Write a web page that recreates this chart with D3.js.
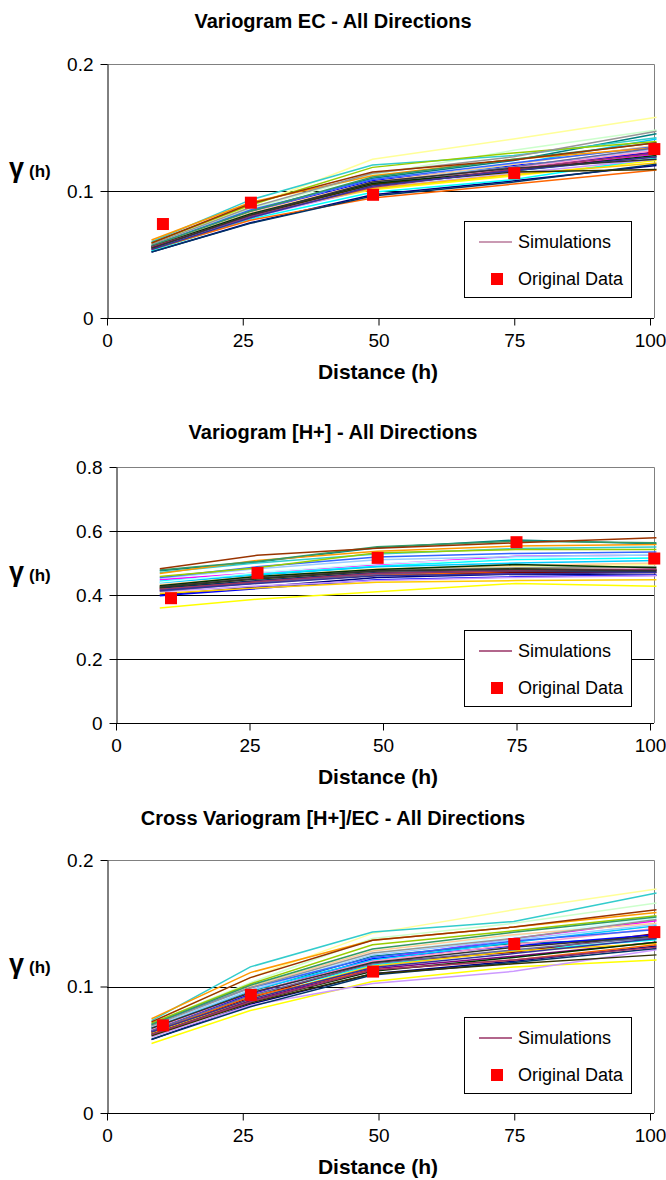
<!DOCTYPE html>
<html>
<head>
<meta charset="utf-8">
<script src="https://cdn.jsdelivr.net/npm/d3@7"></script>
<style>
body { margin: 0; background: #fff; }
svg { display: block; font-family: "Liberation Sans", Arial, sans-serif; }
</style>
</head>
<body>
<div id="chart"></div>
<script>
// lag distances of the simulated and original variogram points
var simLags = [8.2, 26.4, 48.9, 74.9, 101.2];
var dataLags = [10.3, 26.5, 49, 75, 100.8];
var xTicks = [0, 25, 50, 75, 100];

// excel default line colours, one per simulation
var simColors = ["#000080", "#FF00FF", "#FFFF00", "#00FFFF", "#800080", "#800000", "#008080", "#0000FF",
    "#00CCFF", "#CCFFFF", "#CCFFCC", "#FFFF99", "#99CCFF", "#FF99CC", "#CC99FF", "#FFCC99",
    "#3366FF", "#33CCCC", "#99CC00", "#FFCC00", "#FF9900", "#FF6600", "#666699", "#969696",
    "#003366", "#339966", "#003300", "#333300", "#993300", "#993366", "#333399", "#333333"];

// Variogram EC
var ecTicks = [0, 0.1, 0.2];
var ecData = [0.074, 0.0908, 0.097, 0.114, 0.133];
var ecSims = [
    [0.052, 0.075, 0.097, 0.108, 0.120],
    [0.055, 0.080, 0.102, 0.116, 0.129],
    [0.057, 0.082, 0.101, 0.112, 0.124],
    [0.053, 0.078, 0.099, 0.109, 0.126],
    [0.056, 0.081, 0.104, 0.118, 0.131],
    [0.055, 0.079, 0.105, 0.117, 0.127],
    [0.057, 0.084, 0.110, 0.124, 0.145],
    [0.056, 0.083, 0.108, 0.120, 0.130],
    [0.054, 0.080, 0.106, 0.121, 0.141],
    [0.055, 0.081, 0.103, 0.115, 0.128],
    [0.058, 0.086, 0.113, 0.132, 0.148],
    [0.059, 0.088, 0.125, 0.141, 0.158],
    [0.056, 0.082, 0.107, 0.119, 0.133],
    [0.055, 0.080, 0.104, 0.118, 0.132],
    [0.054, 0.079, 0.102, 0.114, 0.125],
    [0.057, 0.083, 0.107, 0.121, 0.136],
    [0.057, 0.085, 0.109, 0.122, 0.135],
    [0.060, 0.093, 0.1205, 0.128, 0.142],
    [0.059, 0.089, 0.1186, 0.130, 0.139],
    [0.056, 0.081, 0.102, 0.113, 0.122],
    [0.0614, 0.091, 0.112, 0.125, 0.134],
    [0.054, 0.077, 0.0945, 0.1055, 0.1165],
    [0.055, 0.080, 0.106, 0.119, 0.134],
    [0.058, 0.087, 0.114, 0.127, 0.147],
    [0.052, 0.0745, 0.096, 0.107, 0.121],
    [0.057, 0.084, 0.111, 0.125, 0.138],
    [0.056, 0.082, 0.106, 0.116, 0.128],
    [0.055, 0.081, 0.105, 0.115, 0.117],
    [0.059, 0.090, 0.115, 0.1244, 0.138],
    [0.056, 0.080, 0.103, 0.117, 0.130],
    [0.054, 0.079, 0.104, 0.116, 0.127],
    [0.055, 0.081, 0.107, 0.118, 0.125]
];

// Variogram [H+]
var hTicks = [0, 0.2, 0.4, 0.6, 0.8];
var hData = [0.39, 0.469, 0.516, 0.565, 0.514];
var hSims = [
    [0.400, 0.425, 0.455, 0.465, 0.462],
    [0.448, 0.469, 0.495, 0.521, 0.525],
    [0.359, 0.387, 0.410, 0.436, 0.427],
    [0.443, 0.466, 0.490, 0.511, 0.516],
    [0.415, 0.440, 0.465, 0.470, 0.472],
    [0.420, 0.438, 0.462, 0.472, 0.470],
    [0.476, 0.503, 0.548, 0.572, 0.560],
    [0.398, 0.420, 0.448, 0.457, 0.462],
    [0.438, 0.462, 0.488, 0.500, 0.508],
    [0.440, 0.470, 0.498, 0.515, 0.528],
    [0.425, 0.452, 0.478, 0.488, 0.490],
    [0.430, 0.458, 0.482, 0.490, 0.495],
    [0.452, 0.482, 0.510, 0.520, 0.525],
    [0.418, 0.445, 0.470, 0.478, 0.482],
    [0.410, 0.428, 0.445, 0.455, 0.460],
    [0.432, 0.458, 0.480, 0.492, 0.500],
    [0.455, 0.488, 0.519, 0.530, 0.534],
    [0.470, 0.500, 0.528, 0.545, 0.550],
    [0.458, 0.485, 0.532, 0.542, 0.542],
    [0.405, 0.422, 0.440, 0.445, 0.448],
    [0.467, 0.508, 0.537, 0.553, 0.558],
    [0.420, 0.440, 0.462, 0.475, 0.478],
    [0.412, 0.438, 0.466, 0.478, 0.480],
    [0.428, 0.455, 0.478, 0.485, 0.488],
    [0.422, 0.445, 0.470, 0.475, 0.475],
    [0.478, 0.505, 0.551, 0.568, 0.563],
    [0.429, 0.458, 0.480, 0.495, 0.485],
    [0.424, 0.450, 0.475, 0.482, 0.478],
    [0.482, 0.524, 0.546, 0.563, 0.579],
    [0.417, 0.442, 0.468, 0.476, 0.480],
    [0.414, 0.436, 0.460, 0.466, 0.470],
    [0.426, 0.452, 0.476, 0.480, 0.476]
];

// Cross variogram [H+]/EC
var crossTicks = [0, 0.1, 0.2];
var crossData = [0.0693, 0.0934, 0.1118, 0.1336, 0.143];
var crossSims = [
    [0.058, 0.086, 0.110, 0.120, 0.132],
    [0.066, 0.094, 0.121, 0.138, 0.152],
    [0.055, 0.081, 0.104, 0.1155, 0.121],
    [0.066, 0.092, 0.117, 0.128, 0.137],
    [0.063, 0.089, 0.114, 0.124, 0.135],
    [0.064, 0.091, 0.119, 0.127, 0.142],
    [0.068, 0.096, 0.124, 0.134, 0.138],
    [0.065, 0.094, 0.122, 0.132, 0.141],
    [0.067, 0.097, 0.121, 0.135, 0.148],
    [0.069, 0.098, 0.126, 0.140, 0.154],
    [0.071, 0.103, 0.138, 0.150, 0.166],
    [0.072, 0.107, 0.142, 0.1606, 0.177],
    [0.068, 0.097, 0.125, 0.137, 0.149],
    [0.066, 0.095, 0.120, 0.133, 0.146],
    [0.060, 0.085, 0.1024, 0.112, 0.129],
    [0.069, 0.100, 0.128, 0.141, 0.150],
    [0.070, 0.099, 0.123, 0.136, 0.145],
    [0.073, 0.1155, 0.143, 0.1514, 0.174],
    [0.071, 0.102, 0.133, 0.144, 0.156],
    [0.063, 0.090, 0.116, 0.128, 0.134],
    [0.0745, 0.111, 0.1365, 0.147, 0.1585],
    [0.064, 0.092, 0.113, 0.121, 0.133],
    [0.065, 0.093, 0.118, 0.129, 0.139],
    [0.069, 0.099, 0.1265, 0.138, 0.153],
    [0.0583, 0.084, 0.109, 0.119, 0.130],
    [0.070, 0.101, 0.1297, 0.1428, 0.155],
    [0.062, 0.088, 0.112, 0.123, 0.135],
    [0.061, 0.087, 0.110, 0.118, 0.125],
    [0.072, 0.107, 0.1365, 0.147, 0.1606],
    [0.062, 0.088, 0.113, 0.121, 0.131],
    [0.064, 0.090, 0.115, 0.126, 0.138],
    [0.067, 0.095, 0.119, 0.131, 0.140]
];

var svg = d3.select("#chart").append("svg")
    .attr("width", 666)
    .attr("height", 1180);

drawChart({title: "Variogram EC - All Directions", sims: ecSims, data: ecData, yTicks: ecTicks,
    titleY: 28, top: 64, bottom: 318, left: 107, legendTop: 221, legendColor: "#b8789a"});
drawChart({title: "Variogram [H+] - All Directions", sims: hSims, data: hData, yTicks: hTicks,
    titleY: 439, top: 467, bottom: 723, left: 116, legendTop: 630, legendColor: "#993366"});
drawChart({title: "Cross Variogram [H+]/EC - All Directions", sims: crossSims, data: crossData, yTicks: crossTicks,
    titleY: 825, top: 860, bottom: 1113, left: 107, legendTop: 1017, legendColor: "#993366"});

function drawChart(c) {
    var right = 654;
    var yMax = c.yTicks[c.yTicks.length - 1];
    var x = d3.scaleLinear().domain([0, 100]).range([c.left, 650]);
    var y = d3.scaleLinear().domain([0, yMax]).range([c.bottom, c.top]);
    var g = svg.append("g");

    g.append("text")
        .attr("x", 333)
        .attr("y", c.titleY)
        .attr("text-anchor", "middle")
        .style("font-size", "20px")
        .style("font-weight", "bold")
        .text(c.title);

    // gridlines inside the plot
    g.selectAll(".grid").data(c.yTicks.slice(1, -1)).enter().append("line")
        .attr("x1", c.left).attr("x2", right)
        .attr("y1", function(d) { return Math.round(y(d)) + 0.5; })
        .attr("y2", function(d) { return Math.round(y(d)) + 0.5; })
        .attr("stroke", "#000");

    // grey plot frame, top and right
    g.append("path")
        .attr("d", "M" + c.left + "," + (c.top + 0.5) + "H" + (right + 0.5) + "V" + c.bottom)
        .attr("fill", "none")
        .attr("stroke", "#808080");

    // simulations
    var line = d3.line()
        .x(function(d, i) { return x(simLags[i]); })
        .y(function(d) { return y(d); });
    g.selectAll(".sim").data(c.sims).enter().append("path")
        .attr("d", line)
        .attr("fill", "none")
        .attr("stroke", function(d, i) { return simColors[i]; })
        .attr("stroke-width", 1.5);

    // original data
    g.selectAll(".pt").data(c.data).enter().append("rect")
        .attr("x", function(d, i) { return x(dataLags[i]) - 6; })
        .attr("y", function(d) { return y(d) - 6; })
        .attr("width", 12)
        .attr("height", 12)
        .attr("fill", "#FF0000");

    // axes
    var yAxis = d3.axisLeft(y).tickValues(c.yTicks).tickSize(7).tickSizeOuter(0).tickPadding(7)
        .tickFormat(function(d) { return String(d); });
    var ya = g.append("g").attr("transform", "translate(" + (c.left + 0.5) + ",0)").call(yAxis);
    var xAxis = d3.axisBottom(x).tickValues(xTicks).tickSize(7).tickSizeOuter(0).tickPadding(8);
    var xa = g.append("g").attr("transform", "translate(0," + (c.bottom + 0.5) + ")").call(xAxis);
    xa.select(".domain").attr("d", "M" + c.left + ",0H" + right);
    [ya, xa].forEach(function(a) {
        a.select(".domain").attr("stroke", "#000");
        a.selectAll(".tick line").attr("stroke", "#000");
        a.selectAll(".tick text").attr("fill", "#000")
            .style("font-size", "19px")
            .style("font-family", "'Liberation Sans', Arial, sans-serif");
    });

    g.append("text")
        .attr("x", 378)
        .attr("y", c.bottom + 61)
        .attr("text-anchor", "middle")
        .style("font-size", "21px")
        .style("font-weight", "bold")
        .text("Distance (h)");

    var lab = g.append("text")
        .attr("x", 9)
        .attr("y", (c.top + c.bottom) / 2 - 14)
        .style("font-weight", "bold");
    lab.append("tspan").style("font-size", "27px").text("\u03b3");
    lab.append("tspan").attr("dx", 5).style("font-size", "17px").text("(h)");

    // legend
    var lg = g.append("g").attr("transform", "translate(464," + c.legendTop + ")");
    lg.append("rect")
        .attr("x", 0.5).attr("y", 0.5)
        .attr("width", 167).attr("height", 76)
        .attr("fill", "#fff")
        .attr("stroke", "#000");
    lg.append("line")
        .attr("x1", 15).attr("x2", 48)
        .attr("y1", 21).attr("y2", 21)
        .attr("stroke", c.legendColor)
        .attr("stroke-width", 1.5);
    lg.append("text").attr("x", 54).attr("y", 21).attr("dy", "0.35em")
        .style("font-size", "18px").text("Simulations");
    lg.append("rect")
        .attr("x", 27).attr("y", 52)
        .attr("width", 12).attr("height", 12)
        .attr("fill", "#FF0000");
    lg.append("text").attr("x", 54).attr("y", 58).attr("dy", "0.35em")
        .style("font-size", "18px").text("Original Data");
}
</script>
</body>
</html>
